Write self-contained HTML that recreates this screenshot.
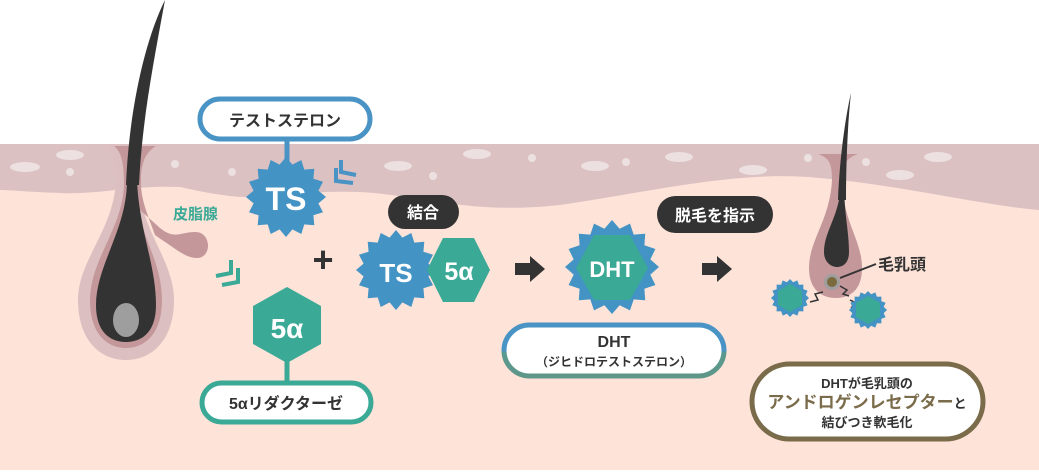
<!DOCTYPE html>
<html><head><meta charset="utf-8">
<style>
html,body{margin:0;padding:0;background:#fff;}
svg{display:block;}
text{font-family:"Liberation Sans","Noto Sans CJK JP",sans-serif;font-weight:bold;}
</style></head>
<body>
<svg id="s" width="1039" height="472" viewBox="0 0 1039 472" xmlns="http://www.w3.org/2000/svg">
<defs>
<linearGradient id="g1" x1="0" y1="0" x2="0" y2="1">
<stop offset="0" stop-color="#4a93c5"/><stop offset="0.5" stop-color="#4a93c5"/><stop offset="0.55" stop-color="#5a9a8e"/><stop offset="1" stop-color="#5e968a"/>
</linearGradient>
</defs>
<rect x="0" y="144" width="1039" height="326" fill="#fde3d8"/>
<path d="M0 144 H1039 V210 C980 205 900 185 820 178 C740 170 660 190 560 205 C470 215 420 195 360 192 C300 190 260 200 230 196 C200 192 195 190 180 187 C130 185 100 195 60 193 C30 192 10 190 0 190 Z" fill="#dbc1c2"/>
<g fill="#ece0e0">
<ellipse cx="25" cy="167" rx="15" ry="5"/><ellipse cx="70" cy="155" rx="14" ry="5"/><circle cx="70" cy="172" r="4"/>
<circle cx="175" cy="164" r="4"/><circle cx="232" cy="172" r="4"/><ellipse cx="398" cy="166" rx="14" ry="5"/>
<circle cx="433" cy="176" r="4"/><ellipse cx="477" cy="154" rx="14" ry="5"/><circle cx="532" cy="158" r="4"/>
<ellipse cx="595" cy="166" rx="14" ry="5"/><circle cx="626" cy="162" r="4"/><ellipse cx="679" cy="157" rx="14" ry="5"/>
<ellipse cx="753" cy="170" rx="14" ry="5"/><circle cx="808" cy="158" r="4"/><circle cx="866" cy="162" r="4"/>
<ellipse cx="900" cy="175" rx="14" ry="5"/><ellipse cx="938" cy="157" rx="14" ry="5"/>
</g>
<path d="M103 145 C110 150 116 160 116 180 C114 230 78 260 78 300 C78 340 100 360 126 360 C152 360 174 340 174 300 C174 260 140 230 138 180 C138 160 150 150 163 145 Z" fill="#dcc0c1"/>
<path d="M114 146 C122 152 124 165 124 185 C122 230 90 260 90 300 C90 335 108 348 126 348 C144 348 162 335 162 300 C162 262 140 235 140 210 L160 228 C175 240 180 232 195 232 C212 232 212 258 197 258 C185 258 175 248 162 240 L155 235 C150 220 140 200 141 180 C141 162 146 152 156 146 Z" fill="#c4979a"/>
<path d="M127 180 C127 230 96 265 96 305 C96 332 110 342 126 342 C142 342 156 332 156 305 C156 265 139 230 137 180 Z" fill="#333"/>
<path d="M126 185 C129 110 145 40 165 0 C154 60 142 120 139 185 Z" fill="#333"/>
<ellipse cx="126" cy="320" rx="13" ry="17" fill="#9e9e9e"/>
<text x="173" y="219" font-size="15" fill="#3aa996">皮脂腺</text>
<g fill="none" stroke="#4a93c5" stroke-width="4">
<polyline points="341,160 341,172 356,175"/><polyline points="336,168 336,181 353,183"/>
</g>
<g fill="none" stroke="#3aa996" stroke-width="4">
<polyline points="231,260 231,273 216,276"/><polyline points="238,268 238,282 222,285"/>
</g>
<line x1="287" y1="138" x2="287" y2="162" stroke="#4a93c5" stroke-width="5"/>
<rect x="200" y="99" width="170" height="40" rx="20" fill="#fff" stroke="#4a93c5" stroke-width="5"/>
<text x="285" y="126" font-size="16" fill="#333" text-anchor="middle">テストステロン</text>
<polygon id="st1" fill="#4393c5"/>
<text x="286" y="210" font-size="32" fill="#fff" text-anchor="middle">TS</text>
<text x="323" y="272" font-size="36" fill="#333" text-anchor="middle" font-weight="normal">+</text>
<line x1="287" y1="360" x2="287" y2="384" stroke="#3aa996" stroke-width="5"/>
<polygon points="287,287 321,306 321,344 287,363 253,344 253,306" fill="#3aa996"/>
<text x="287" y="338" font-size="28" fill="#fff" text-anchor="middle">5α</text>
<rect x="202" y="383" width="169" height="39" rx="19.5" fill="#fff" stroke="#3aa996" stroke-width="5"/>
<text x="286" y="409" font-size="16" fill="#333" text-anchor="middle">5αリダクターゼ</text>
<rect x="388" y="195" width="71" height="34" rx="17" fill="#333"/>
<text x="423" y="218" font-size="16" fill="#fff" text-anchor="middle">結合</text>
<polygon id="st2" fill="#4393c5"/>
<text x="396" y="282" font-size="26" fill="#fff" text-anchor="middle">TS</text>
<polygon points="427,270 443,238 474,238 490,270 474,302 443,302" fill="#3aa996"/>
<text x="459" y="280" font-size="25" fill="#fff" text-anchor="middle">5α</text>
<polygon points="515,263 530,263 530,256 545,269 530,282 530,275 515,275" fill="#333"/>
<polygon points="702,263 717,263 717,256 732,269 717,282 717,275 702,275" fill="#333"/>
<polygon id="st3" fill="#4393c5"/>
<polygon points="576,268 594,235 630,235 648,268 630,300 594,300" fill="#3aa996"/>
<text x="612" y="277" font-size="22" fill="#fff" text-anchor="middle">DHT</text>
<rect x="504" y="325" width="220" height="51" rx="25.5" fill="#fff" stroke="url(#g1)" stroke-width="5"/>
<text x="614" y="347" font-size="16" fill="#333" text-anchor="middle">DHT</text>
<text x="614" y="366" font-size="12" fill="#333" text-anchor="middle">（ジヒドロテストステロン）</text>
<rect x="657" y="196" width="116" height="37" rx="18.5" fill="#333"/>
<text x="715" y="221" font-size="16" fill="#fff" text-anchor="middle">脱毛を指示</text>
<path d="M818 154 C830 158 832 165 832 180 C830 220 809 240 809 268 C809 290 822 298 836 298 C850 298 862 290 862 268 C862 240 842 220 842 180 C842 165 846 158 858 154 Z" fill="#c4979a"/>
<path d="M841 180 C841 215 824 230 824 252 C824 262 831 267 837 267 C844 267 849 262 849 252 C849 230 844 215 844 180 Z" fill="#333"/>
<path d="M838 200 C840 150 847 110 851 93 C848 120 846 160 846 200 Z" fill="#333"/>
<circle cx="832" cy="282" r="8" fill="#9e9e9e"/><circle cx="832" cy="282" r="5" fill="#7b6a3e"/>
<line x1="840" y1="278" x2="876" y2="264" stroke="#333" stroke-width="2"/>
<text x="878" y="270" font-size="16" fill="#333">毛乳頭</text>
<g fill="none" stroke="#333" stroke-width="1.5">
<polyline points="810,302 818,300 815,294 823,292"/><polyline points="850,300 856,303 852,307 862,308"/>
<polyline points="840,286 847,290 843,294 849,296"/>
</g>
<polygon id="st4" fill="#4393c5"/>
<polygon points="790,284 802,291 802,305 790,312 778,305 778,291" fill="#3aa996"/>
<polygon id="st5" fill="#4393c5"/>
<polygon points="868,296 880,303 880,317 868,324 856,317 856,303" fill="#3aa996"/>
<rect x="752" y="364" width="231" height="75" rx="37.5" fill="#fff" stroke="#7a6b4a" stroke-width="5"/>
<text x="867" y="388" font-size="13" fill="#333" text-anchor="middle">DHTが毛乳頭の</text>
<text x="867" y="408" font-size="17" fill="#333" text-anchor="middle"><tspan fill="#7a6b4a">アンドロゲンレセプター</tspan><tspan font-size="13">と</tspan></text>
<text x="867" y="427" font-size="13" fill="#333" text-anchor="middle">結びつき軟毛化</text>
</svg>
<script>
function star(id,cx,cy,ro,ri,n){var p=[];for(var i=0;i<2*n;i++){var a=Math.PI*i/n-Math.PI/2;var r=i%2?ri:ro;p.push((cx+r*Math.cos(a)).toFixed(1)+","+(cy+r*Math.sin(a)).toFixed(1));}document.getElementById(id).setAttribute("points",p.join(" "));}
star("st1",286,197,40,33,16);
star("st2",396,270,40,33,16);
star("st3",612,267,47,39,16);
star("st4",790,298,19,16,16);
star("st5",868,310,19,16,16);
</script>
</body></html>
